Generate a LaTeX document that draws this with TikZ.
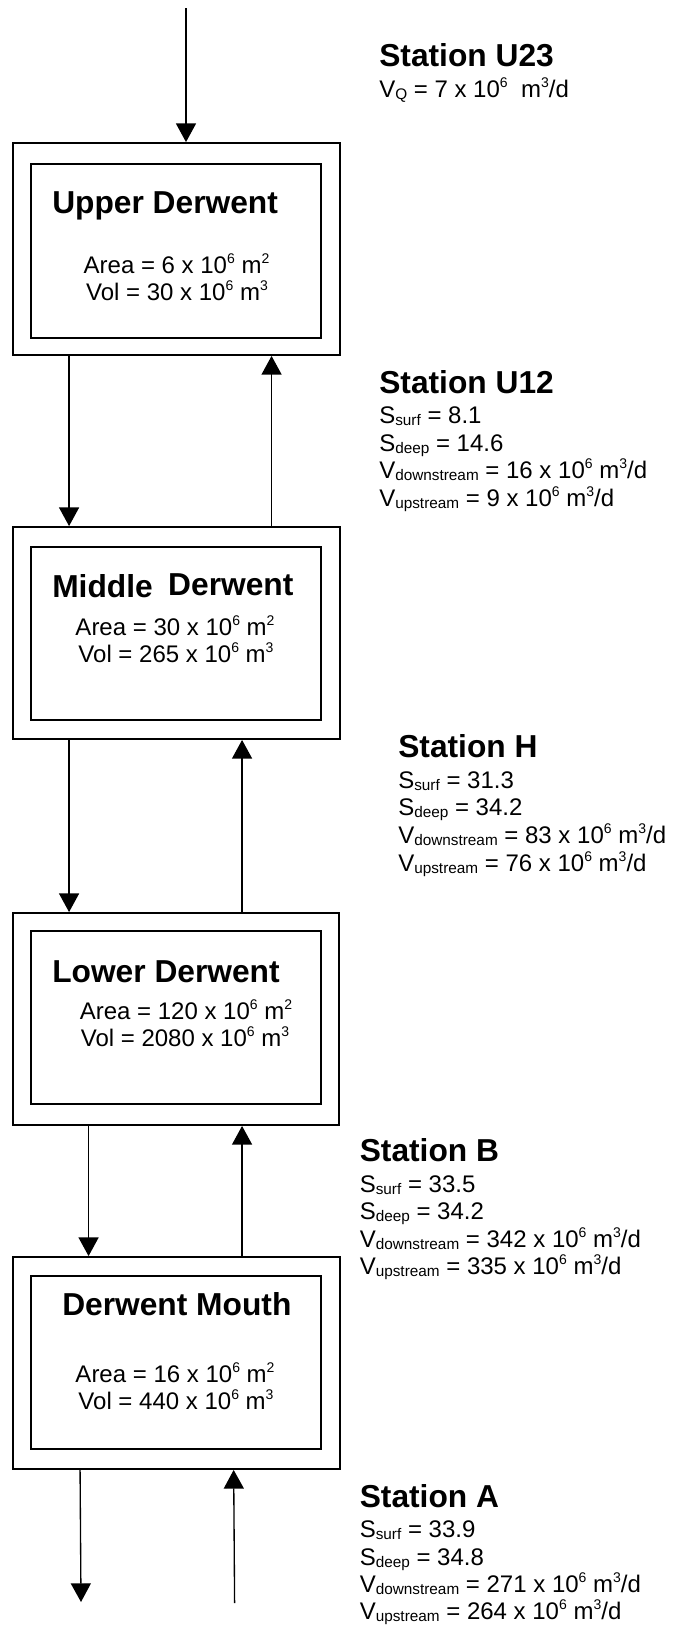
\documentclass[tikz,border=0pt]{standalone}
\usepackage{fontspec}
\setmainfont{Liberation Sans}
\usetikzlibrary{arrows.meta,fit,calc}
\newcommand{\supx}[1]{\raisebox{6.8pt}{\fontsize{10.5}{10.5}\selectfont #1}}
\newcommand{\subx}[1]{\raisebox{-1.9pt}{\fontsize{11.5}{11.5}\selectfont #1}}
\begin{document}
\begin{tikzpicture}[x=0.75pt,y=-0.75pt,
  obox/.style={draw,line width=1.4pt,inner sep=0pt},
  ibox/.style={draw,line width=1.4pt,inner sep=0pt},
  arr/.style={line width=1pt,-{Triangle[width=15pt,length=14pt]}},
  ttl/.style={anchor=base west,inner sep=0pt,font=\fontsize{23.8}{28}\selectfont\bfseries},
  bod/.style={anchor=base,inner sep=0pt,font=\fontsize{18}{21}\selectfont},
  stx/.style={anchor=base west,inner sep=0pt,font=\fontsize{18}{21}\selectfont},
]
\useasboundingbox (0,0) rectangle (675,1625);

% ---- boxes ----
\node[obox,fit={(13,143) (340,355)}] (b1o) {};
\node[ibox,fit={(31.4,164) (321,338)}] (b1i) {};
\node[obox,fit={(13,527) (340,739)}] (b2o) {};
\node[ibox,fit={(31.4,547) (321,720)}] (b2i) {};
\node[obox,fit={(13,913) (339,1125)}] (b3o) {};
\node[ibox,fit={(31.4,931) (321,1104)}] (b3i) {};
\node[obox,fit={(13,1257) (340,1469)}] (b4o) {};
\node[ibox,fit={(31.4,1276) (321,1449)}] (b4i) {};

% ---- box texts ----
\node[ttl] (t1) at (52,213) {Upper Derwent};
\node[bod] (a1) at (176.5,273) {Area = 6 x 10\supx{6} m\supx{2}};
\node[bod] (v1) at (177,300) {Vol = 30 x 10\supx{6} m\supx{3}};

\node[ttl] (t2) at (52,597) {Middle\hspace{11.6pt}\raisebox{1.5pt}{Derwent}};
\node[bod] (a2) at (175,635) {Area = 30 x 10\supx{6} m\supx{2}};
\node[bod] (v2) at (176,662) {Vol = 265 x 10\supx{6} m\supx{3}};

\node[ttl] (t3) at (52,982) {Lower Derwent};
\node[bod] (a3) at (186,1019) {Area = 120 x 10\supx{6} m\supx{2}};
\node[bod] (v3) at (185,1046) {Vol = 2080 x 10\supx{6} m\supx{3}};

\node[ttl] (t4) at (62,1315) {Derwent Mouth};
\node[bod] (a4) at (175,1382) {Area = 16 x 10\supx{6} m\supx{2}};
\node[bod] (v4) at (176,1409) {Vol = 440 x 10\supx{6} m\supx{3}};

% ---- stations ----
\node[ttl] (su23) at (379,66) {Station U23};
\node[stx] (su23a) at (379,97) {V\subx{Q} = 7 x 10\supx{6}\ \ m\supx{3}/d};

\node[ttl] (su12) at (379,393) {Station U12};
\node[stx] (su12a) at (379,423) {S\subx{surf} = 8.1};
\node[stx] (su12b) at (379,451) {S\subx{deep} = 14.6};
\node[stx] (su12c) at (379,478) {V\subx{downstream} = 16 x 10\supx{6} m\supx{3}/d};
\node[stx] (su12d) at (379,506) {V\subx{upstream} = 9 x 10\supx{6} m\supx{3}/d};

\node[ttl] (sh) at (398,757) {Station H};
\node[stx] (sha) at (398,788) {S\subx{surf} = 31.3};
\node[stx] (shb) at (398,815) {S\subx{deep} = 34.2};
\node[stx] (shc) at (398,843) {V\subx{downstream} = 83 x 10\supx{6} m\supx{3}/d};
\node[stx] (shd) at (398,871) {V\subx{upstream} = 76 x 10\supx{6} m\supx{3}/d};

\node[ttl] (sb) at (359.5,1161) {Station B};
\node[stx] (sba) at (359.5,1192) {S\subx{surf} = 33.5};
\node[stx] (sbb) at (359.5,1219) {S\subx{deep} = 34.2};
\node[stx] (sbc) at (359.5,1247) {V\subx{downstream} = 342 x 10\supx{6} m\supx{3}/d};
\node[stx] (sbd) at (359.5,1274) {V\subx{upstream} = 335 x 10\supx{6} m\supx{3}/d};

\node[ttl] (sa) at (359.5,1507) {Station A};
\node[stx] (saa) at (359.5,1537) {S\subx{surf} = 33.9};
\node[stx] (sab) at (359.5,1565) {S\subx{deep} = 34.8};
\node[stx] (sac) at (359.5,1592) {V\subx{downstream} = 271 x 10\supx{6} m\supx{3}/d};
\node[stx] (sad) at (359.5,1619) {V\subx{upstream} = 264 x 10\supx{6} m\supx{3}/d};

% ---- connectors ----
\coordinate (inU) at (186,8);
\draw[arr] (inU) -- (inU |- b1o.north);

\draw[arr] ($(b1o.south west)+(57,0)$) -- ($(b2o.north west)+(57,0)$);
\draw[arr] ($(b2o.north west)+(259.5,0)$) -- ($(b1o.south west)+(259.5,0)$);

\draw[arr] ($(b2o.south west)+(57,0)$) -- ($(b3o.north west)+(57,0)$);
\draw[arr] ($(b3o.north west)+(230,0)$) -- ($(b2o.south west)+(230,0)$);

\draw[arr] ($(b3o.south west)+(76.5,0)$) -- ($(b4o.north west)+(76.5,0)$);
\draw[arr] ($(b4o.north west)+(230,0)$) -- ($(b3o.south west)+(230,0)$);

\coordinate (outA) at (81,1602);
\coordinate (inA) at (234.6,1603);
\draw[arr] ($(b4o.south west)+(68,0)$) -- (outA);
\draw[arr] (inA) -- ($(b4o.south west)+(221.6,0)$);
\end{tikzpicture}
\end{document}
